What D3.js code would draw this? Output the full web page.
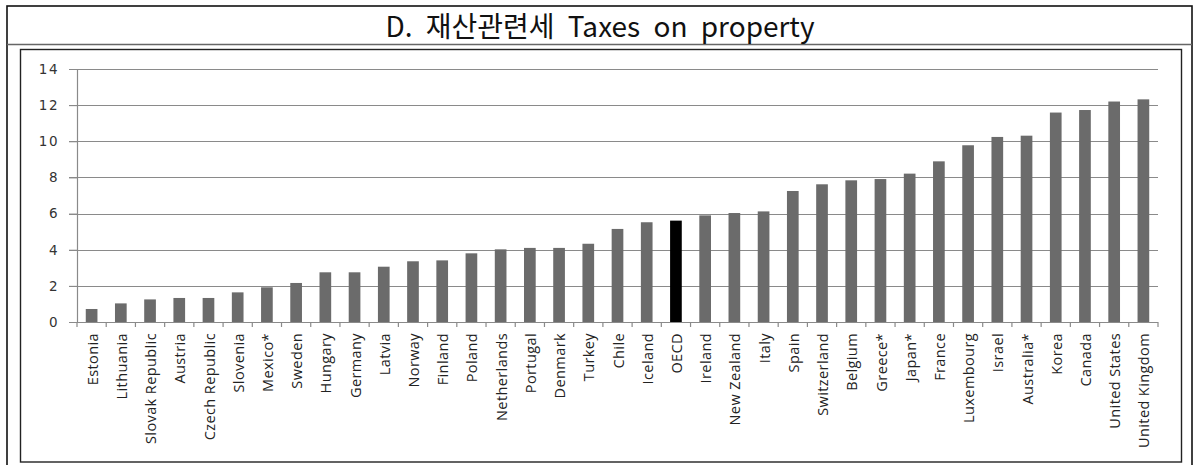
<!DOCTYPE html>
<html>
<head>
<meta charset="utf-8">
<script src="https://cdn.jsdelivr.net/npm/d3@7"></script>
<style>
  html, body { margin: 0; padding: 0; background: #fff; }
  svg { display: block; }
</style>
</head>
<body>
<svg id="chart" width="1197" height="465"></svg>
<script>
// Property taxes as % of total taxation, by country (OECD average highlighted)
const countries = [
  "Estonia", "Lithuania", "Slovak Republic", "Austria", "Czech Republic", "Slovenia",
  "Mexico*", "Sweden", "Hungary", "Germany", "Latvia", "Norway", "Finland", "Poland",
  "Netherlands", "Portugal", "Denmark", "Turkey", "Chile", "Iceland", "OECD", "Ireland",
  "New Zealand", "Italy", "Spain", "Switzerland", "Belgium", "Greece*", "Japan*",
  "France", "Luxembourg", "Israel", "Australia*", "Korea", "Canada", "United States",
  "United Kingdom"
];
const values = [
  0.72, 1.03, 1.25, 1.33, 1.33, 1.64,
  1.92, 2.16, 2.75, 2.75, 3.06, 3.36, 3.41, 3.80,
  4.02, 4.10, 4.10, 4.33, 5.15, 5.52, 5.61, 5.90,
  6.03, 6.12, 7.25, 7.62, 7.84, 7.91, 8.21,
  8.89, 9.78, 10.24, 10.31, 11.59, 11.73, 12.20,
  12.32
];
const yTicks = [0, 2, 4, 6, 8, 10, 12, 14];
const highlight = "OECD";
const titleText = "D. 재산관련세 Taxes on property";

const data = countries.map((c, i) => ({ country: c, value: values[i] }));

const svg = d3.select("#chart");

// Frames: outer box, title separator, inner chart box
svg.append("rect").attr("x", 7).attr("y", 6).attr("width", 1185).attr("height", 462)
  .attr("fill", "none").attr("stroke", "#111").attr("stroke-width", 1.6);
svg.append("line").attr("x1", 7).attr("x2", 1192).attr("y1", 44.5).attr("y2", 44.5)
  .attr("stroke", "#666").attr("stroke-width", 1.3);
svg.append("rect").attr("x", 20.5).attr("y", 49.5).attr("width", 1161).attr("height", 412.5)
  .attr("fill", "#fff").attr("stroke", "#222").attr("stroke-width", 1.4);

// Title
svg.append("text")
  .attr("x", 600).attr("y", 37)
  .attr("text-anchor", "middle")
  .attr("font-family", "'Noto Sans CJK KR', 'Noto Sans', sans-serif")
  .attr("font-size", 28)
  .attr("word-spacing", 7)
  .attr("fill", "#111")
  .text(titleText);

const x0 = 77, x1 = 1158, yTop = 69, yBase = 322;

const x = d3.scaleBand().domain(countries).range([x0, x1]).paddingInner(0.6).paddingOuter(0.3);
const y = d3.scaleLinear().domain([0, 14]).range([yBase, yTop]);

// Horizontal gridlines
svg.append("g")
  .selectAll("line")
  .data(yTicks)
  .join("line")
  .attr("x1", x0 - 8).attr("x2", x1)
  .attr("y1", d => Math.round(y(d)) + 0.5).attr("y2", d => Math.round(y(d)) + 0.5)
  .attr("stroke", "#8a8a8a").attr("stroke-width", 1.2);

// Y axis
const yAxis = svg.append("g")
  .attr("transform", `translate(${x0},0)`)
  .call(d3.axisLeft(y).tickValues(yTicks).tickSize(8).tickPadding(10));
yAxis.select(".domain").attr("stroke", "#8a8a8a").attr("stroke-width", 1.2);
yAxis.selectAll(".tick line").attr("stroke", "#8a8a8a");
yAxis.selectAll("text")
  .attr("font-family", "'DejaVu Sans', sans-serif")
  .attr("font-size", 13.5)
  .attr("letter-spacing", 1.5)
  .attr("fill", "#333");

// Bars
svg.append("g")
  .selectAll("rect")
  .data(data)
  .join("rect")
  .attr("x", d => x(d.country))
  .attr("width", x.bandwidth())
  .attr("y", d => y(d.value))
  .attr("height", d => y(0) - y(d.value))
  .attr("fill", d => d.country === highlight ? "#000" : "#6b6b6b");

// X axis: baseline with tick marks at category boundaries
const bounds = d3.range(countries.length + 1).map(i => x0 + i * (x1 - x0) / countries.length);
svg.append("line").attr("x1", x0).attr("x2", x1)
  .attr("y1", Math.round(y(0)) + 0.5).attr("y2", Math.round(y(0)) + 0.5)
  .attr("stroke", "#8a8a8a").attr("stroke-width", 1.2);
svg.append("g")
  .selectAll("line")
  .data(bounds)
  .join("line")
  .attr("x1", d => d).attr("x2", d => d)
  .attr("y1", y(0)).attr("y2", y(0) + 5)
  .attr("stroke", "#8a8a8a").attr("stroke-width", 1.2);

// Category labels, rotated
svg.append("g")
  .selectAll("text")
  .data(countries)
  .join("text")
  .attr("transform", d => `translate(${x(d) + x.bandwidth() / 2 + 1},${yBase + 11}) rotate(-90)`)
  .attr("dy", "0.35em")
  .attr("text-anchor", "end")
  .attr("font-family", "'Open Sans', sans-serif")
  .attr("font-size", 14.5)
  .attr("letter-spacing", 0.4)
  .attr("fill", "#222")
  .text(d => d);
</script>
</body>
</html>
